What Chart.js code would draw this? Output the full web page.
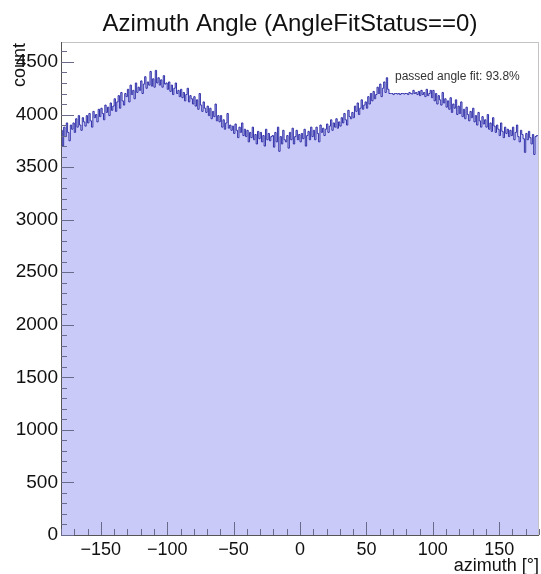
<!DOCTYPE html>
<html><head><meta charset="utf-8">
<script src="https://cdn.jsdelivr.net/npm/chart.js@4"></script>
<style>html,body{margin:0;padding:0;background:#fff}#wrap{width:541px;height:574px}</style>
</head><body><div id="wrap"><canvas id="c" width="541" height="574"></canvas></div>
<script>
const chartTitle = "Azimuth Angle (AngleFitStatus==0)";
const xTitle = "azimuth [°]";
const yTitle = "count";
const annotation = "passed angle fit: 93.8%";

const xMin = -180, xMax = 180, binWidth = 1;
const yMin = 0, yMax = 4690;

// counts per 1° bin, from -180 to 180
const counts = [
3760,3850,3700,3880,3790,3920,3830,3750,3900,3860,
3920,3830,3960,3880,3990,3900,3850,3970,3930,3890,
3990,3920,4010,3940,3880,4030,3970,4000,3930,4050,
3980,4060,4010,3950,4090,4020,4070,3990,4110,4040,
4080,4150,4030,4120,4180,4060,4210,4130,4090,4200,
4170,4240,4120,4280,4190,4230,4150,4300,4210,4260,
4230,4320,4200,4290,4360,4250,4310,4280,4410,4270,
4340,4260,4420,4300,4350,4280,4330,4260,4370,4290,
4300,4240,4310,4220,4280,4190,4250,4300,4200,4230,
4170,4240,4160,4210,4130,4190,4250,4120,4180,4150,
4100,4170,4080,4140,4050,4200,4090,4030,4120,4060,
4020,4080,3990,4060,3960,4030,3980,4100,3940,3990,
3930,3990,3880,3950,3860,3920,4010,3870,3900,3850,
3890,3820,3910,3850,3780,3880,3830,3920,3800,3860,
3790,3850,3740,3830,3780,3880,3760,3810,3720,3840,
3770,3830,3740,3800,3700,3860,3760,3820,3750,3790,
3800,3690,3830,3740,3880,3650,3790,3720,3850,3760,
3740,3800,3680,3830,3760,3870,3720,3790,3850,3760,
3810,3740,3820,3770,3860,3700,3800,3840,3760,3880,
3790,3850,3760,3880,3820,3740,3900,3830,3870,3800,
3860,3910,3830,3890,3950,3850,3920,3880,3960,3870,
3930,3890,3970,3920,4010,3950,3900,4040,3980,3960,
4020,3970,4080,4030,4110,4000,4060,4140,4050,4090,
4120,4060,4170,4100,4200,4130,4220,4150,4190,4260,
4200,4290,4170,4250,4310,4210,4350,4240,4200,4200,
4200,4190,4200,4200,4195,4200,4190,4200,4200,4195,
4200,4200,4190,4210,4200,4195,4230,4200,4210,4190,
4220,4180,4230,4190,4210,4170,4240,4180,4200,4230,
4160,4230,4130,4200,4100,4180,4140,4090,4210,4110,
4150,4070,4130,4050,4160,4020,4100,4060,4140,4000,
4080,4010,4120,3980,4050,3960,4070,4000,3940,4030,
3970,4060,3930,3990,3900,4020,3940,3880,3980,3910,
3950,3880,4000,3860,3920,3840,3970,3890,3830,3900,
3860,3800,3920,3840,3780,3880,3820,3860,3790,3850,
3800,3880,3760,3830,3900,3790,3740,3850,3810,3770,
3640,3820,3760,3840,3780,3720,3810,3620,3790,3800
];

const xMajorTicks = [-150,-100,-50,0,50,100,150];
const yMajorTicks = [0,500,1000,1500,2000,2500,3000,3500,4000,4500];
const xMinorStep = 10, yMinorStep = 100;

const pts = counts.map((v,i)=>({x: xMin + i*binWidth, y: v}));
pts.push({x: xMax, y: counts[counts.length-1]});

const fmt = v => v < 0 ? '\u2212' + Math.abs(v) : String(v);
const FONT = "'Liberation Sans', Arial, Helvetica, sans-serif";

const decor = {
  id: 'decor',
  afterDraw(chart) {
    const ctx = chart.ctx, a = chart.chartArea;
    const xs = chart.scales.x, ys = chart.scales.y;
    ctx.save();
    ctx.lineWidth = 1;
    ctx.strokeStyle = '#c4c4c4';
    ctx.beginPath();
    ctx.moveTo(a.left, a.top + 0.5); ctx.lineTo(a.right, a.top + 0.5);
    ctx.moveTo(a.right - 0.5, a.top); ctx.lineTo(a.right - 0.5, a.bottom);
    ctx.stroke();
    ctx.strokeStyle = '#555';
    ctx.beginPath();
    ctx.moveTo(a.left + 0.5, a.top); ctx.lineTo(a.left + 0.5, a.bottom + 0.5);
    ctx.lineTo(a.right, a.bottom + 0.5);
    ctx.stroke();
    ctx.strokeStyle = '#6a6a8a';
    ctx.beginPath();
    for (let v = xMin; v <= xMax; v += xMinorStep) {
      const px = Math.round(xs.getPixelForValue(v)) + 0.5;
      const len = (v % 50 === 0) ? 13 : 6;
      ctx.moveTo(px, a.bottom); ctx.lineTo(px, a.bottom - len);
    }
    for (let v = yMin; v <= yMax; v += yMinorStep) {
      const py = Math.round(ys.getPixelForValue(v)) + 0.5;
      const len = (v % 500 === 0) ? 13 : 6;
      ctx.moveTo(a.left, py); ctx.lineTo(a.left + len, py);
    }
    ctx.stroke();
    ctx.fillStyle = '#111';
    ctx.font = "24px " + FONT;
    ctx.textAlign = 'center'; ctx.textBaseline = 'alphabetic';
    ctx.fillText(chartTitle, 290, 31);
    ctx.font = "18px " + FONT;
    ctx.textAlign = 'right';
    ctx.fillText(xTitle, 539, 571);
    ctx.save();
    ctx.translate(25, 43);
    ctx.rotate(-Math.PI/2);
    ctx.textAlign = 'right';
    ctx.fillText(yTitle, 0, 0);
    ctx.restore();
    ctx.font = "12px " + FONT;
    ctx.fillStyle = '#333';
    ctx.textAlign = 'left'; ctx.textBaseline = 'middle';
    ctx.fillText(annotation, 395, 77);
    ctx.restore();
  }
};

new Chart(document.getElementById('c'), {
  type: 'line',
  data: { datasets: [{
    data: pts,
    stepped: 'after',
    fill: 'origin',
    backgroundColor: '#cacaf8',
    borderColor: 'rgba(40,40,165,0.95)',
    borderWidth: 1,
    pointRadius: 0,
    tension: 0
  }]},
  options: {
    responsive: false,
    animation: false,
    devicePixelRatio: 1,
    layout: { padding: { top: 42, right: 2, left: 0, bottom: 0 } },
    plugins: { legend: { display: false }, tooltip: { enabled: false }, title: { display: false } },
    scales: {
      x: {
        type: 'linear', min: xMin, max: xMax,
        grid: { display: false, drawTicks: false },
        border: { display: false },
        afterBuildTicks: s => { s.ticks = xMajorTicks.map(v => ({ value: v })); },
        afterFit: s => { s.height = 39; },
        ticks: { callback: v => fmt(v), padding: 4, color: '#111', maxRotation: 0, autoSkip: false,
                 font: { family: FONT, size: 18 } }
      },
      y: {
        min: yMin, max: yMax,
        grid: { display: false, drawTicks: false },
        border: { display: false },
        afterBuildTicks: s => { s.ticks = yMajorTicks.map(v => ({ value: v })); },
        afterFit: s => { s.width = 61; },
        ticks: { callback: v => fmt(v), padding: 3, color: '#111', autoSkip: false,
                 font: { family: FONT, size: 19 } }
      }
    }
  },
  plugins: [decor]
});
</script>
</body></html>
